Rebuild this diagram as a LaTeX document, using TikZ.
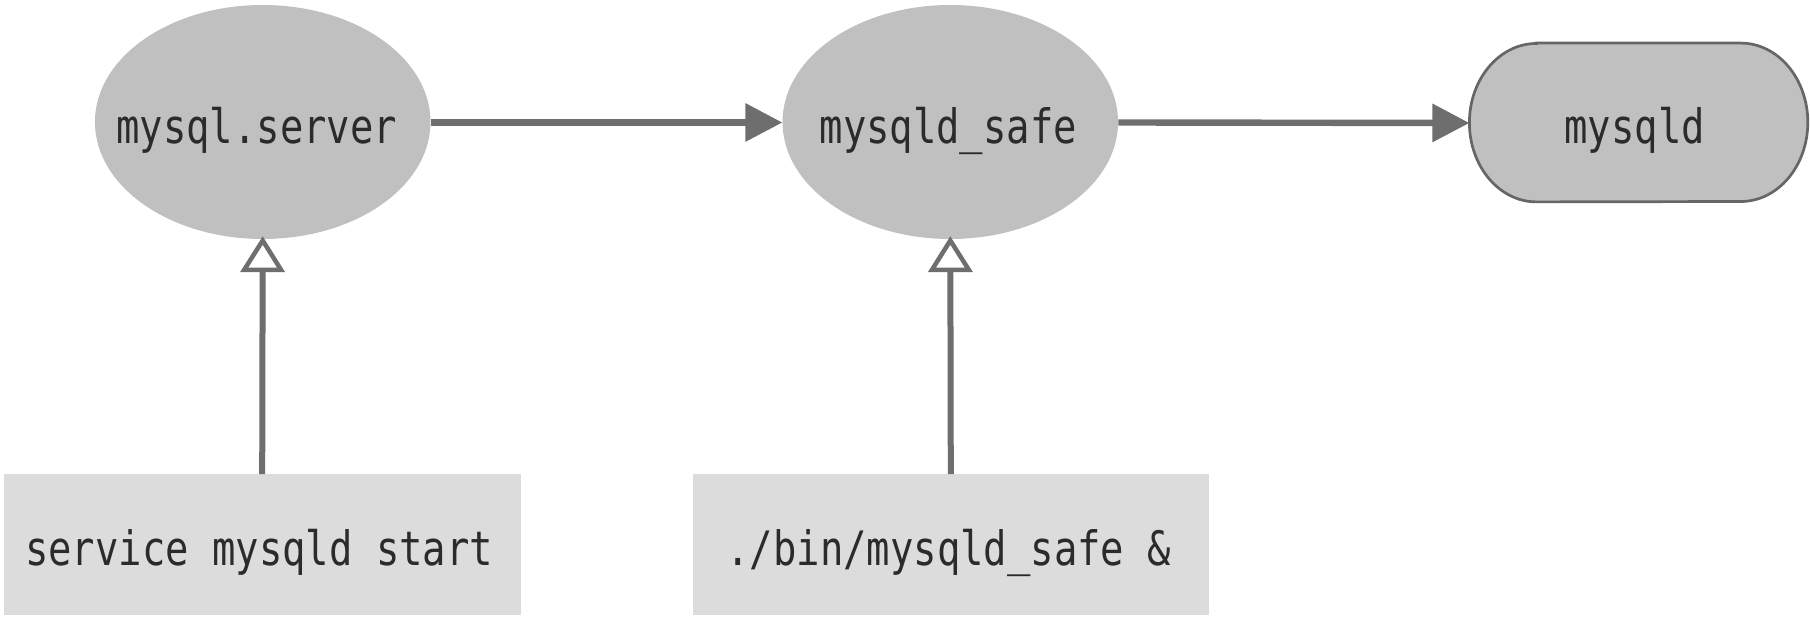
\documentclass[tikz,border=0pt]{standalone}
\usepackage{fontspec}
\setmonofont[FakeStretch=0.82]{DejaVu Sans Mono}
\usetikzlibrary{shapes.geometric,arrows.meta}
\definecolor{ovalfill}{HTML}{C0C0C0}
\definecolor{boxfill}{HTML}{DCDCDC}
\definecolor{linegray}{HTML}{6E6E6E}
\definecolor{bordergray}{HTML}{666666}
\definecolor{textdark}{HTML}{2B2B2B}
\begin{document}
\begin{tikzpicture}[x=1pt,y=1pt,
  ovalbox/.style={ellipse,fill=ovalfill,draw=none,inner sep=0pt,
    minimum width=335.5pt,minimum height=234pt},
  cmdbox/.style={rectangle,fill=boxfill,draw=none,inner sep=0pt,
    minimum width=516.6pt,minimum height=140.7pt},
  procbox/.style={rectangle,draw=none,inner sep=0pt,
    minimum width=338pt,minimum height=158.4pt},
  lbl/.style={font=\ttfamily\fontsize{47.4}{50}\selectfont,text=textdark,
    inner sep=0pt,anchor=base},
  flow/.style={draw=linegray,line width=6.4pt,
    -{Triangle[length=37pt,width=37pt]}},
  launch/.style={draw=linegray,line width=6pt,
    -{Triangle[open,fill=white,length=36pt,width=44pt,line width=4.5pt]}}]
\useasboundingbox (0,0) rectangle (1810,619);
\fill[white] (0,0) rectangle (1810,619);
% nodes
\node[ovalbox] (e1) at (262.7,497) {};
\node[ovalbox] (e2) at (950.3,497) {};
\node[procbox] (d) at (1638.6,496.5) {};
\node[cmdbox] (b1) at (262.2,74.3) {};
\node[cmdbox] (b2) at (950.8,74.3) {};
% stadium outline of mysqld
\draw[fill=ovalfill,draw=bordergray,line width=2.7pt]
  ([xshift=67pt]d.north west) -- ([xshift=-67pt]d.north east)
  arc[start angle=90,end angle=-90,x radius=67pt,y radius=79.2pt]
  -- ([xshift=67pt]d.south west)
  arc[start angle=270,end angle=90,x radius=67pt,y radius=79.2pt]
  -- cycle;
% labels
\node[lbl] (t1) at ([yshift=-21.3pt,xshift=-6pt]e1.center) {mysql.server};
\node[lbl] (t2) at ([yshift=-21.3pt,xshift=-2pt]e2.center) {mysqld\_safe};
\node[lbl] (t3) at ([yshift=-21.1pt,xshift=-4pt]d.center) {mysqld};
\node[lbl] (t4) at ([yshift=-20.3pt,xshift=-3pt]b1.center) {service mysqld start};
\node[lbl] (t5) at ([yshift=-20.3pt,xshift=-2pt]b2.center) {./bin/mysqld\_safe \&};
% connectors
\draw[flow] ([yshift=-0.5pt]e1.east) -- ([yshift=-0.5pt]e2.west);
\draw[flow] ([yshift=-0.5pt]e2.east) -- ([yshift=-0.5pt]d.west);
\draw[launch] (b1.north) -- ([yshift=3pt]e1.south);
\draw[launch] (b2.north) -- ([yshift=3pt]e2.south);
\end{tikzpicture}
\end{document}
